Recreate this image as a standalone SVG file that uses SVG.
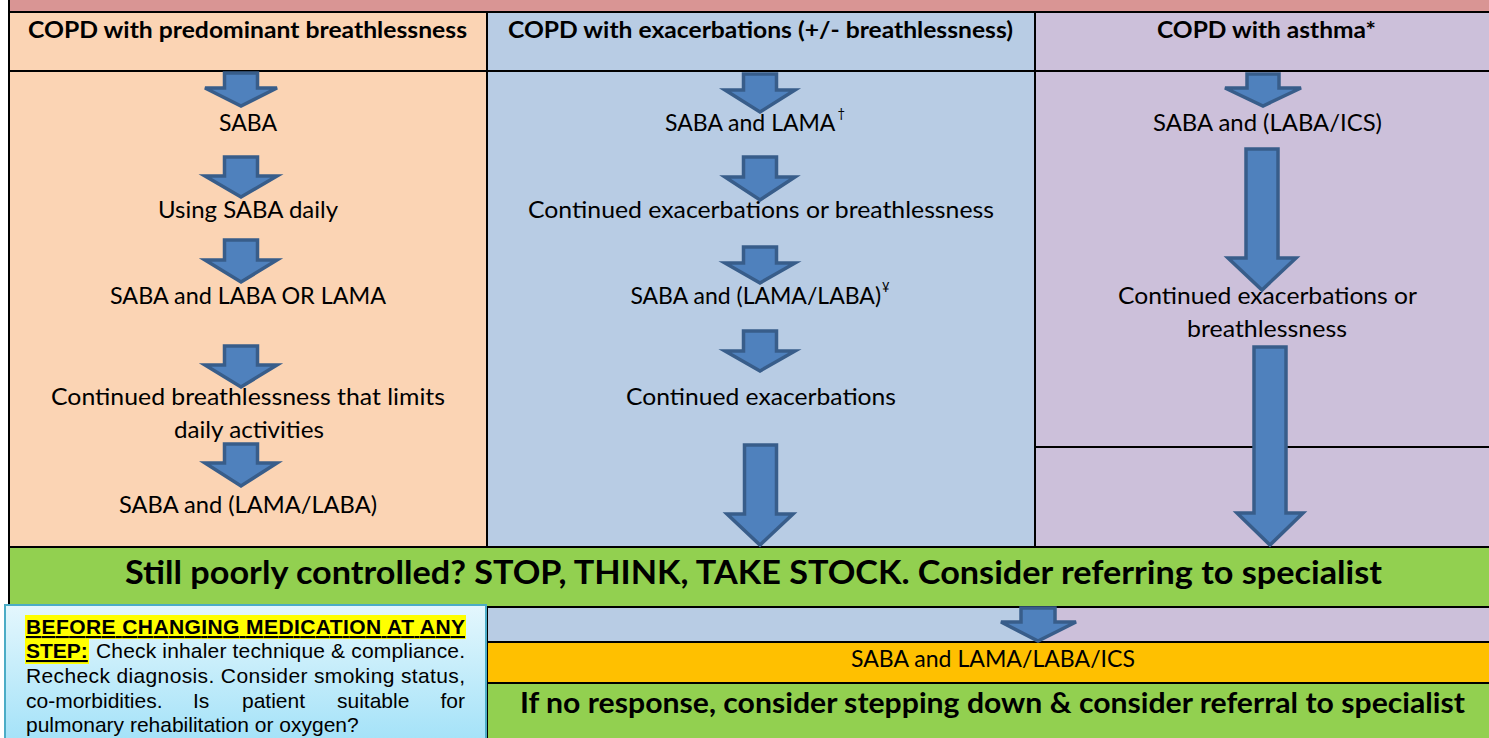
<svg xmlns="http://www.w3.org/2000/svg" width="1489" height="738" viewBox="0 0 1489 738">
<style>
.ln{stroke:#000;stroke-width:2;fill:none}
.arr{fill:#4F81BD;stroke:#385D8A;stroke-width:3.5;stroke-linejoin:miter}
.hd{font-family:Lato,"Open Sans",sans-serif;font-weight:bold;font-size:22px;fill:#000;text-anchor:middle}
.tx{font-family:Lato,"Open Sans",sans-serif;font-size:23px;fill:#000;text-anchor:middle}
.sup{font-size:13px}
.big{font-family:Lato,"Open Sans",sans-serif;font-weight:bold;font-size:33px;fill:#000;text-anchor:middle}
.bot{font-family:Lato,"Open Sans",sans-serif;font-weight:bold;font-size:28px;fill:#000;text-anchor:middle}
.nt{font-family:"Liberation Sans",Arial,sans-serif;font-size:21px;fill:#000}
.ntb{font-family:"Liberation Sans",Arial,sans-serif;font-size:21px;font-weight:bold;fill:#000;text-decoration:underline}
</style>
<defs>
<linearGradient id="boxg" x1="0" y1="0" x2="0" y2="1">
<stop offset="0" stop-color="#E4F7FD"/>
<stop offset="1" stop-color="#A4E2F8"/>
</linearGradient>
</defs>
<rect x="0" y="0" width="1489" height="738" fill="#FFFFFF"/>
<g id="backgrounds">
<rect x="9" y="0" width="1480" height="12" fill="#D99594"/>
<rect x="9" y="12" width="478" height="535" fill="#FBD4B4"/>
<rect x="487" y="12" width="548" height="535" fill="#B8CCE4"/>
<rect x="1035" y="12" width="454" height="535" fill="#CCC0DA"/>
<rect x="9" y="547" width="1480" height="60" fill="#92D050"/>
<rect x="487" y="607" width="558" height="35" fill="#B8CCE4"/>
<rect x="1045" y="607" width="444" height="35" fill="#CCC0DA"/>
<rect x="487" y="642" width="1002" height="41" fill="#FFC000"/>
<rect x="487" y="683" width="1002" height="55" fill="#92D050"/>
</g>
<g id="grid">
<line class="ln" x1="9" y1="0" x2="9" y2="738"/>
<line class="ln" x1="9" y1="12" x2="1489" y2="12"/>
<line class="ln" x1="9" y1="71" x2="1489" y2="71"/>
<line class="ln" x1="487" y1="12" x2="487" y2="547"/>
<line class="ln" x1="1035" y1="12" x2="1035" y2="547"/>
<line class="ln" x1="1035" y1="447" x2="1489" y2="447"/>
<line class="ln" x1="9" y1="547" x2="1489" y2="547"/>
<line class="ln" x1="9" y1="607" x2="1489" y2="607"/>
<line class="ln" x1="487" y1="642" x2="1489" y2="642"/>
<line class="ln" x1="487" y1="683" x2="1489" y2="683"/>
<line class="ln" x1="487" y1="607" x2="487" y2="738"/>
</g>
<g id="connectors">
<path class="arr" d="M224.5,73 H257.5 V88 H277 L241,106 L205,88 H224.5 Z"/>
<path class="arr" d="M224.5,157 H257.5 V176 H277 L241,197 L205,176 H224.5 Z"/>
<path class="arr" d="M224.5,240 H257.5 V260 H277 L241,282 L205,260 H224.5 Z"/>
<path class="arr" d="M224.5,346 H257.5 V365 H277 L241,387 L205,365 H224.5 Z"/>
<path class="arr" d="M224.5,444 H257.5 V463 H277 L241,486 L205,463 H224.5 Z"/>
<path class="arr" d="M743.5,74 H776.5 V90 H795 L760,112 L725,90 H743.5 Z"/>
<path class="arr" d="M743.5,157 H776.5 V177 H795 L760,200 L725,177 H743.5 Z"/>
<path class="arr" d="M743.5,247 H776.5 V263 H795 L760,283 L725,263 H743.5 Z"/>
<path class="arr" d="M743.5,331 H776.5 V351 H795 L760,371 L725,351 H743.5 Z"/>
<path class="arr" d="M744.5,445 H776.5 V514 H793 L760,545 L727,514 H744.5 Z"/>
<path class="arr" d="M1247,74 H1279 V88 H1301 L1263,106 L1225,88 H1247 Z"/>
<path class="arr" d="M1246,149 H1278 V258 H1296 L1262,290 L1228,258 H1246 Z"/>
<path class="arr" d="M1254,347 H1286 V513 H1303 L1270,545 L1237,513 H1254 Z"/>
<path class="arr" d="M1021,608 H1055 V622 H1076 L1038,641 L1001,622 H1021 Z"/>
</g>
<g id="header-breathlessness"><text class="hd" x="247.5" y="38" textLength="439" lengthAdjust="spacingAndGlyphs">COPD with predominant breathlessness</text></g>
<g id="header-exacerbations"><text class="hd" x="760.5" y="38" textLength="505" lengthAdjust="spacingAndGlyphs">COPD with exacerbations (+/- breathlessness)</text></g>
<g id="header-asthma"><text class="hd" x="1266.5" y="38" textLength="219" lengthAdjust="spacingAndGlyphs">COPD with asthma*</text></g>
<g id="b1"><text class="tx" x="248" y="131" textLength="58" lengthAdjust="spacingAndGlyphs">SABA</text></g>
<g id="b2"><text class="tx" x="248" y="218" textLength="180" lengthAdjust="spacingAndGlyphs">Using SABA daily</text></g>
<g id="b3"><text class="tx" x="248" y="304" textLength="276" lengthAdjust="spacingAndGlyphs">SABA and LABA OR LAMA</text></g>
<g id="b4"><text class="tx" x="248" y="405" textLength="394" lengthAdjust="spacingAndGlyphs">Continued breathlessness that limits</text><text class="tx" x="249" y="438" textLength="150" lengthAdjust="spacingAndGlyphs">daily activities</text></g>
<g id="b5"><text class="tx" x="248" y="513" textLength="258" lengthAdjust="spacingAndGlyphs">SABA and (LAMA/LABA)</text></g>
<g id="e1"><text class="tx" x="755" y="131">SABA and LAMA<tspan class="sup" dx="2" dy="-13">†</tspan></text></g>
<g id="e2"><text class="tx" x="761" y="218" textLength="466" lengthAdjust="spacingAndGlyphs">Continued exacerbations or breathlessness</text></g>
<g id="e3"><text class="tx" x="760" y="304">SABA and (LAMA/LABA)<tspan class="sup" dx="1" dy="-12">¥</tspan></text></g>
<g id="e4"><text class="tx" x="761" y="405" textLength="270" lengthAdjust="spacingAndGlyphs">Continued exacerbations</text></g>
<g id="a1"><text class="tx" x="1267.5" y="131" textLength="229" lengthAdjust="spacingAndGlyphs">SABA and (LABA/ICS)</text></g>
<g id="a2"><text class="tx" x="1267.5" y="304" textLength="299" lengthAdjust="spacingAndGlyphs">Continued exacerbations or</text><text class="tx" x="1267" y="337" textLength="160" lengthAdjust="spacingAndGlyphs">breathlessness</text></g>
<g id="stop-think"><text class="big" x="753.5" y="584" textLength="1257" lengthAdjust="spacingAndGlyphs">Still poorly controlled? STOP, THINK, TAKE STOCK. Consider referring to specialist</text></g>
<g id="triple"><text class="tx" x="993" y="667" textLength="284" lengthAdjust="spacingAndGlyphs">SABA and LAMA/LABA/ICS</text></g>
<g id="no-response"><text class="bot" x="992.5" y="713" textLength="945" lengthAdjust="spacingAndGlyphs">If no response, consider stepping down &amp; consider referral to specialist</text></g>
<g id="before-note">
<rect x="5" y="605" width="481" height="136" fill="url(#boxg)" stroke="#4BACC6" stroke-width="2"/>
<rect x="25" y="615" width="441" height="24" fill="#FFFF00"/>
<rect x="25" y="639" width="64" height="25" fill="#FFFF00"/>
<text class="ntb" x="26" y="634" textLength="439" lengthAdjust="spacing">BEFORE CHANGING MEDICATION AT ANY</text>
<text class="ntb" x="26" y="658">STEP:</text>
<text class="nt" x="96" y="658" textLength="369" lengthAdjust="spacing">Check inhaler technique &amp; compliance.</text>
<text class="nt" x="26" y="683" textLength="439" lengthAdjust="spacing">Recheck diagnosis. Consider smoking status,</text>
<text class="nt" x="26" y="708">co-morbidities.</text>
<text class="nt" x="193" y="708">Is</text>
<text class="nt" x="242" y="708">patient</text>
<text class="nt" x="337" y="708">suitable</text>
<text class="nt" x="465" y="708" text-anchor="end">for</text>
<text class="nt" x="26" y="732">pulmonary rehabilitation or oxygen?</text>
</g>
</svg>
